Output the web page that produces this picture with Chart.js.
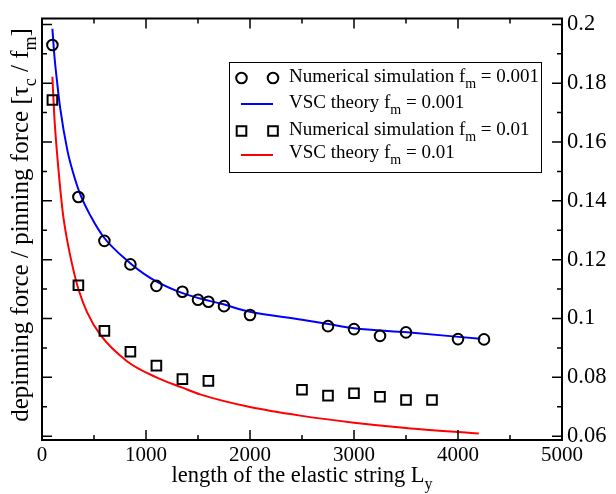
<!DOCTYPE html>
<html><head><meta charset="utf-8">
<script src="https://cdn.jsdelivr.net/npm/chart.js@4/dist/chart.umd.min.js"></script>
<style>html,body{margin:0;padding:0;background:#fff}#wrap{width:616px;height:494px;position:relative}</style>
</head><body><div id="wrap"><canvas id="c" width="616" height="494"></canvas></div>
<script>
// ---- data ----
const simL_fm001 = [100, 350, 600, 850, 1100, 1350, 1500, 1600, 1750, 2000, 2750, 3000, 3250, 3500, 4000, 4250];
const simTau_fm001 = [0.1930, 0.1413, 0.1264, 0.1184, 0.1111, 0.1091, 0.1064, 0.1057, 0.1042, 0.1012, 0.0974, 0.0964, 0.0941, 0.0953, 0.0930, 0.0929];

const theoryL_fm001 = [100, 120, 145, 175, 245, 300, 370, 465, 590, 815, 1040, 1300, 1520, 1715, 2000, 2500, 2755, 3000, 3510, 4215];
const theoryTau_fm001 = [0.1985, 0.1890, 0.1805, 0.1715, 0.1570, 0.1495, 0.1420, 0.1350, 0.1278, 0.1198, 0.1138, 0.1093, 0.1068, 0.1051, 0.1023, 0.0996, 0.0981, 0.0967, 0.0953, 0.0931];

const simL_fm01 = [100, 350, 600, 850, 1100, 1350, 1600, 2500, 2750, 3000, 3250, 3500, 3750];
const simTau_fm01 = [0.1743, 0.1113, 0.0958, 0.0887, 0.0840, 0.0794, 0.0788, 0.0758, 0.0738, 0.0746, 0.0734, 0.0723, 0.0723];

const theoryL_fm01 = [100, 118, 150, 200, 240, 304, 352, 433, 560, 817, 1100, 1350, 1520, 2000, 2500, 3000, 3500, 4200];
const theoryTau_fm01 = [0.1822, 0.1690, 0.1540, 0.1360, 0.1270, 0.1162, 0.1098, 0.1022, 0.0945, 0.0855, 0.0800, 0.0765, 0.0742, 0.0699, 0.0669, 0.0646, 0.0628, 0.0609];

const xTicks = [0, 1000, 2000, 3000, 4000, 5000];
const xMinorTicks = [500, 1500, 2500, 3500, 4500];
const yTicks = [0.06, 0.08, 0.10, 0.12, 0.14, 0.16, 0.18, 0.20];
const yTickLabels = ['0.06', '0.08', '0.1', '0.12', '0.14', '0.16', '0.18', '0.2'];
const yMinorTicks = [0.07, 0.09, 0.11, 0.13, 0.15, 0.17, 0.19];

const legendEntries = [
  [['Numerical simulation f', false], ['m', true], [' = 0.001', false]],
  [['VSC theory f', false], ['m', true], [' = 0.001', false]],
  [['Numerical simulation f', false], ['m', true], [' = 0.01', false]],
  [['VSC theory f', false], ['m', true], [' = 0.01', false]]
];
const xTitle = [['length of the elastic string L', false], ['y', true]];
const yTitle = [['depinning force / pinning force [\u03C4', false], ['c', true], [' / f', false], ['m', true], [']', false]];

// ---- helpers ----
const FONT = "'Liberation Serif', 'Times New Roman', serif";
const toXY = (xs, ys) => xs.map((x, i) => ({x: x, y: ys[i]}));

function partsWidth(ctx, parts, size) {
  let w = 0;
  for (const [t, sub] of parts) {
    ctx.font = (sub ? Math.round(size * 0.72) : size) + 'px ' + FONT;
    w += ctx.measureText(t).width;
  }
  return w;
}
function drawParts(ctx, parts, x, y, size) {
  let cx = x;
  for (const [t, sub] of parts) {
    ctx.font = (sub ? Math.round(size * 0.72) : size) + 'px ' + FONT;
    ctx.fillText(t, cx, sub ? y + size * 0.33 : y);
    cx += ctx.measureText(t).width;
  }
}

const decor = {
  id: 'decor',
  afterDraw(chart) {
    const ctx = chart.ctx, a = chart.chartArea;
    const xs = chart.scales.x, ys = chart.scales.y;
    ctx.save();
    ctx.strokeStyle = '#000';
    ctx.fillStyle = '#000';
    // frame
    ctx.lineWidth = 2;
    ctx.strokeRect(a.left, a.top, a.right - a.left, a.bottom - a.top);
    // inward ticks
    ctx.lineWidth = 1.5;
    ctx.beginPath();
    const tick = (vals, len, isX) => {
      for (const v of vals) {
        if (isX) {
          const p = xs.getPixelForValue(v);
          ctx.moveTo(p, a.bottom); ctx.lineTo(p, a.bottom - len);
          ctx.moveTo(p, a.top); ctx.lineTo(p, a.top + len);
        } else {
          const p = ys.getPixelForValue(v);
          ctx.moveTo(a.left, p); ctx.lineTo(a.left + len, p);
          ctx.moveTo(a.right, p); ctx.lineTo(a.right - len, p);
        }
      }
    };
    tick(xTicks, 10, true); tick(xMinorTicks, 5, true);
    tick(yTicks, 10, false); tick(yMinorTicks, 5, false);
    ctx.stroke();

    // axis titles
    ctx.textBaseline = 'alphabetic';
    ctx.textAlign = 'left';
    const xsz = 22.5;
    const xw = partsWidth(ctx, xTitle, xsz);
    drawParts(ctx, xTitle, (a.left + a.right) / 2 - xw / 2, 482, xsz);
    ctx.save();
    ctx.translate(28, 225);
    ctx.rotate(-Math.PI / 2);
    const ysz = 25;
    const yw = partsWidth(ctx, yTitle, ysz);
    drawParts(ctx, yTitle, -yw / 2, 0, ysz);
    ctx.restore();

    // legend
    const bx = 229, by = 62, bw = 312, bh = 110;
    ctx.fillStyle = '#fff';
    ctx.fillRect(bx, by, bw, bh);
    ctx.lineWidth = 1;
    ctx.strokeStyle = '#000';
    ctx.strokeRect(bx + 0.5, by + 0.5, bw, bh);
    const rowMark = [78, 104, 131, 155];
    const rowBase = [82, 108, 135, 158];
    const ds = chart.data.datasets;
    for (let i = 0; i < 4; i++) {
      const d = ds[i];
      const y = rowMark[i];
      if (d.showLine === false) {
        for (const mx of [241.5, 273]) {
          ctx.fillStyle = 'rgba(0,0,0,0)';
          Chart.helpers.drawPoint(ctx, {
            pointStyle: d.pointStyle, radius: d.pointRadius, borderWidth: 0, rotation: 0
          }, mx, y);
          ctx.lineWidth = d.pointBorderWidth;
          ctx.strokeStyle = d.pointBorderColor;
          ctx.stroke();
        }
      } else {
        ctx.strokeStyle = d.borderColor;
        ctx.lineWidth = d.borderWidth;
        ctx.beginPath();
        ctx.moveTo(241, y); ctx.lineTo(273, y);
        ctx.stroke();
      }
      ctx.fillStyle = '#000';
      drawParts(ctx, legendEntries[i], 289, rowBase[i], 19);
    }
    ctx.restore();
  }
};

new Chart(document.getElementById('c'), {
  type: 'scatter',
  data: {
    datasets: [
      { label: 'Numerical simulation fm = 0.001', data: toXY(simL_fm001, simTau_fm001), showLine: false,
        pointStyle: 'circle', pointRadius: 5.3, pointBorderWidth: 2, pointBorderColor: '#000', pointBackgroundColor: 'rgba(0,0,0,0)', order: 1 },
      { label: 'VSC theory fm = 0.001', data: toXY(theoryL_fm001, theoryTau_fm001), showLine: true,
        borderColor: '#0000ff', borderWidth: 2, pointRadius: 0, cubicInterpolationMode: 'monotone', order: 2 },
      { label: 'Numerical simulation fm = 0.01', data: toXY(simL_fm01, simTau_fm01), showLine: false,
        pointStyle: 'rect', pointRadius: 6.8, pointBorderWidth: 2, pointBorderColor: '#000', pointBackgroundColor: 'rgba(0,0,0,0)', order: 1 },
      { label: 'VSC theory fm = 0.01', data: toXY(theoryL_fm01, theoryTau_fm01), showLine: true,
        borderColor: '#ff0000', borderWidth: 2, pointRadius: 0, cubicInterpolationMode: 'monotone', order: 2 }
    ]
  },
  options: {
    responsive: false,
    animation: false,
    devicePixelRatio: 1,
    layout: { padding: { left: 42, right: 0, top: 10, bottom: 0 } },
    plugins: { legend: { display: false }, tooltip: { enabled: false } },
    scales: {
      x: {
        type: 'linear', position: 'bottom', min: 0, max: 5000,
        grid: { display: false, drawTicks: false }, border: { display: false },
        afterBuildTicks: s => { s.ticks = xTicks.map(v => ({ value: v })); },
        afterFit: s => { s.height = 54; },
        ticks: { color: '#000', padding: 3, maxRotation: 0, font: { family: FONT, size: 21 }, callback: v => String(v) }
      },
      y: {
        type: 'linear', position: 'right', min: 0.0587, max: 0.202,
        grid: { display: false, drawTicks: false }, border: { display: false },
        afterBuildTicks: s => { s.ticks = yTicks.map(v => ({ value: v })); },
        afterFit: s => { s.width = 54; },
        ticks: { color: '#000', padding: 5, font: { family: FONT, size: 22.5 },
          callback: v => yTickLabels[yTicks.findIndex(t => Math.abs(t - v) < 1e-9)] }
      }
    }
  },
  plugins: [decor]
});
</script>
</body></html>
